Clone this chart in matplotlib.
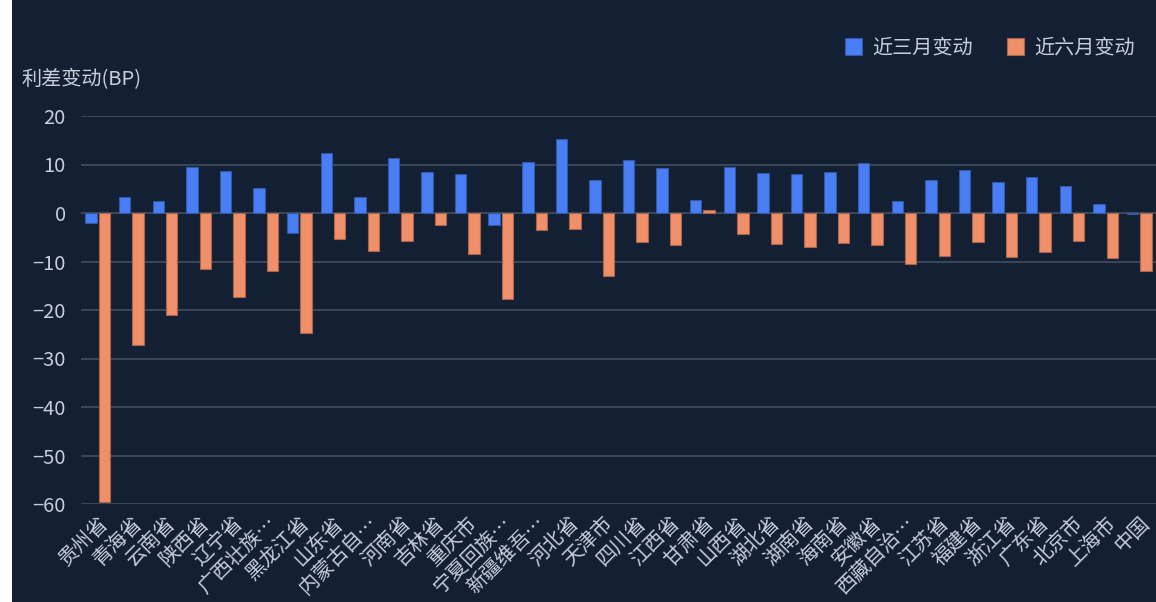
import numpy as np
import matplotlib.pyplot as plt
from matplotlib.patches import Rectangle

plt.rcParams['font.family'] = ['Noto Sans CJK SC', 'DejaVu Sans']

# data
regions = ['贵州省', '青海省', '云南省', '陕西省', '辽宁省', '广西壮族…', '黑龙江省', '山东省',
           '内蒙古自…', '河南省', '吉林省', '重庆市', '宁夏回族…', '新疆维吾…', '河北省', '天津市',
           '四川省', '江西省', '甘肃省', '山西省', '湖北省', '湖南省', '海南省', '安徽省',
           '西藏自治…', '江苏省', '福建省', '浙江省', '广东省', '北京市', '上海市', '中国']
chg_3m = [-2.1, 3.4, 2.5, 9.5, 8.6, 5.1, -4.1, 12.3, 3.4, 11.3, 8.5, 8.0, -2.4, 10.5, 15.3, 6.9,
          10.9, 9.3, 2.6, 9.4, 8.2, 8.1, 8.5, 10.4, 2.5, 6.9, 8.9, 6.4, 7.4, 5.5, 1.9, -0.3]
chg_6m = [-59.6, -27.3, -21.0, -11.5, -17.3, -12.0, -24.7, -5.3, -7.8, -5.8, -2.5, -8.4, -17.7, -3.6,
          -3.2, -12.9, -6.0, -6.7, 0.6, -4.3, -6.3, -7.1, -6.1, -6.5, -10.6, -8.8, -6.0, -9.1, -8.0,
          -5.7, -9.3, -11.9]
yticks = [20, 10, 0, -10, -20, -30, -40, -50, -60]

bg = '#131f33'
txt = '#c5cedb'
blue = '#4a7ef5'
orange = '#f0906a'
fs = 14.5

fig = plt.figure(figsize=(11.56, 6.02), dpi=100, facecolor=bg)
ax = fig.add_axes([81/1156, 1 - 504/602, 1 - 81/1156, (504 - 116)/602])
ax.set_facecolor(bg)

# white strip on the left edge of the screenshot
fig.patches.append(Rectangle((0, 0), 12/1156, 1, transform=fig.transFigure,
                             facecolor='white', edgecolor='none', zorder=10))

x = np.arange(len(regions))
w = 0.34
ax.bar(x - 0.2, chg_3m, w, color=blue, edgecolor='#3458a8', linewidth=0.8, label='近三月变动', zorder=3)
ax.bar(x + 0.2, chg_6m, w, color=orange, edgecolor='#a8644a', linewidth=0.8, label='近六月变动', zorder=3)

ax.set_xlim(-0.5, len(regions) - 0.5)
ax.set_ylim(-60, 20)
ax.set_yticks(yticks)
ax.set_yticklabels([str(v).replace('-', '\u2212') for v in yticks], fontsize=fs, color=txt)
ax.set_xticks(x)
ax.set_xticklabels(regions, rotation=45, ha='right', va='top', rotation_mode='anchor',
                   fontsize=fs, color=txt)
ax.tick_params(length=0)
ax.tick_params(axis='y', pad=11)
ax.tick_params(axis='x', pad=6)
ax.grid(axis='y', color='#3a4558', linewidth=1.5, zorder=1)
for s in ax.spines.values():
    s.set_visible(False)

fig.text(21/1156, 1 - 80/602, '利差变动(BP)', fontsize=fs, color=txt, va='center', ha='left')

fig.legend(loc='center right', bbox_to_anchor=(1153/1156, 1 - 48/602), ncol=2, frameon=False,
           fontsize=fs, labelcolor=txt, handlelength=0.85, handleheight=0.85,
           handletextpad=0.5, columnspacing=1.7)

fig.savefig('out.png', dpi=100, facecolor=bg)
